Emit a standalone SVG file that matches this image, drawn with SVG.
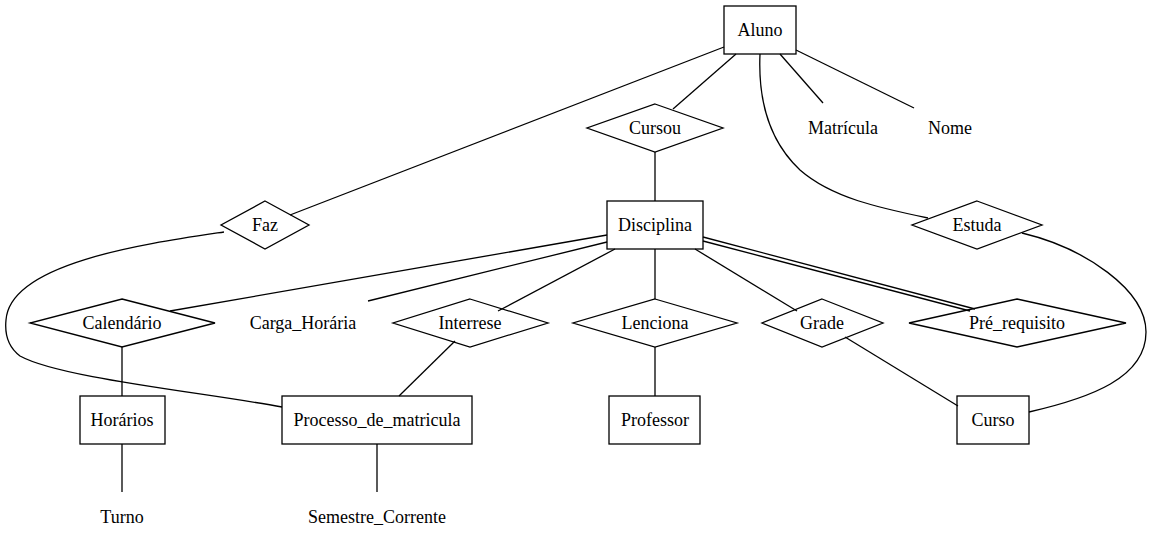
<svg xmlns="http://www.w3.org/2000/svg" width="1151" height="547" viewBox="0 0 1151 547">
<style>
.n{fill:none;stroke:#000;stroke-width:1.3}
.e{fill:none;stroke:#000;stroke-width:1.3}
text{font-family:"Liberation Serif","Times New Roman",serif;font-size:18px;text-anchor:middle;dominant-baseline:central;fill:#000}
</style>
<rect width="1151" height="547" fill="#fff"/>
<g id="connectors">
<path class="e" d="M736,54 L673,109"/>
<path class="e" d="M724,47 L290,215"/>
<path class="e" d="M780,54 L823,103"/>
<path class="e" d="M796,50 L914,108"/>
<path class="e" d="M760,54 C758,100 768,140 800,170 C832,198 880,208 928,218"/>
<path class="e" d="M655,152 L655,201"/>
<path class="e" d="M224,232 C150,243 10,262 6,320 C4,340 12,350 20,356 C60,378 200,392 282,407"/>
<path class="e" d="M607,235 L170,311"/>
<path class="e" d="M607,242 L368,301"/>
<path class="e" d="M615,249 L498,311"/>
<path class="e" d="M655,249 L655,299"/>
<path class="e" d="M695,249 L797,311"/>
<path class="e" d="M703,237 L975,309"/>
<path class="e" d="M703,241 L970,311"/>
<path class="e" d="M1022,233 C1085,248 1146,290 1146,332 C1146,378 1090,398 1029,412"/>
<path class="e" d="M122,347 L122,396"/>
<path class="e" d="M455,341 L399,396"/>
<path class="e" d="M655,347 L655,396"/>
<path class="e" d="M845,337 L958,406"/>
<path class="e" d="M122,444 L122,492"/>
<path class="e" d="M377,444 L377,492"/>
</g>
<g id="Aluno"><rect class="n" x="724" y="6" width="72" height="48"/><text x="760" y="30">Aluno</text></g>
<g id="Cursou"><polygon class="n" points="655,104 723,128 655,152 587,128"/><text x="655" y="128">Cursou</text></g>
<g id="Matricula"><text x="843" y="128">Matrícula</text></g>
<g id="Nome"><text x="950" y="128">Nome</text></g>
<g id="Faz"><polygon class="n" points="265,201 309,225 265,249 221,225"/><text x="265" y="225">Faz</text></g>
<g id="Disciplina"><rect class="n" x="607" y="201" width="96" height="48"/><text x="655" y="225">Disciplina</text></g>
<g id="Estuda"><polygon class="n" points="977,201 1042,225 977,249 912,225"/><text x="977" y="225">Estuda</text></g>
<g id="Calendario"><polygon class="n" points="122,299 215,323 122,347 30,323"/><text x="122" y="323">Calendário</text></g>
<g id="Carga_Horaria"><text x="303" y="323">Carga_Horária</text></g>
<g id="Interrese"><polygon class="n" points="470,299 548,323 470,347 393,323"/><text x="470" y="323">Interrese</text></g>
<g id="Lenciona"><polygon class="n" points="655,299 737,323 655,347 573,323"/><text x="655" y="323">Lenciona</text></g>
<g id="Grade"><polygon class="n" points="822,299 883,323 822,347 762,323"/><text x="822" y="323">Grade</text></g>
<g id="Pre_requisito"><polygon class="n" points="1017,299 1126,323 1017,347 909,323"/><text x="1017" y="323">Pré_requisito</text></g>
<g id="Horarios"><rect class="n" x="80" y="396" width="85" height="48"/><text x="122" y="420">Horários</text></g>
<g id="Processo_de_matricula"><rect class="n" x="282" y="396" width="190" height="48"/><text x="377" y="420">Processo_de_matricula</text></g>
<g id="Professor"><rect class="n" x="609" y="396" width="91" height="48"/><text x="655" y="420">Professor</text></g>
<g id="Curso"><rect class="n" x="957" y="396" width="72" height="48"/><text x="993" y="420">Curso</text></g>
<g id="Turno"><text x="122" y="517">Turno</text></g>
<g id="Semestre_Corrente"><text x="377" y="517">Semestre_Corrente</text></g>
</svg>
